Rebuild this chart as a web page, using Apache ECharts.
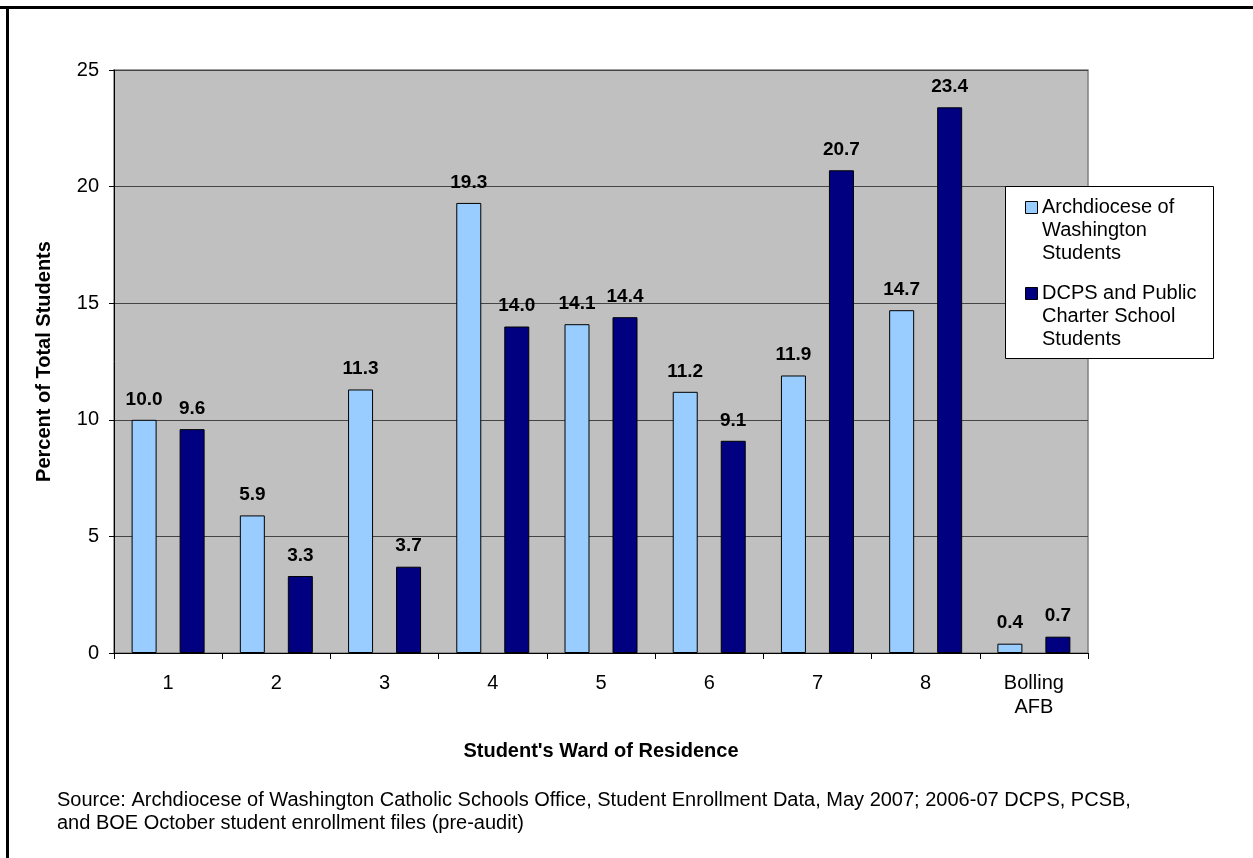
<!DOCTYPE html>
<html>
<head>
<meta charset="utf-8">
<script src="https://cdn.jsdelivr.net/npm/echarts@6/dist/echarts.min.js"></script>
<style>
html,body{margin:0;padding:0;background:#fff;}
#chart{width:1253px;height:858px;}
</style>
</head>
<body>
<div id="chart"></div>
<script>
var categories = ['1', '2', '3', '4', '5', '6', '7', '8', 'Bolling\nAFB'];
var archdioceseValues = [10.0, 5.9, 11.3, 19.3, 14.1, 11.2, 11.9, 14.7, 0.4];
var dcpsValues = [9.6, 3.3, 3.7, 14.0, 14.4, 9.1, 20.7, 23.4, 0.7];
var seriesNames = ['Archdiocese of Washington Students', 'DCPS and Public Charter School Students'];
var legendLines = [['Archdiocese of', 'Washington', 'Students'], ['DCPS and Public', 'Charter School', 'Students']];
var yTicks = {min: 0, max: 25, interval: 5};
var sourceLines = [
  'Source: Archdiocese of Washington Catholic Schools Office, Student Enrollment Data, May 2007; 2006-07 DCPS, PCSB,',
  'and BOE October student enrollment files (pre-audit)'
];

var FONT = '"Liberation Sans", Arial, sans-serif';
var FS = 20;
var colors = ['#99CCFF', '#000080'];

var chart = echarts.init(document.getElementById('chart'), null, {renderer: 'canvas'});

var labelCfg = {
  show: true, position: 'top', distance: 11,
  fontFamily: FONT, fontSize: 19, fontWeight: 'bold', color: '#000',
  formatter: function (p) { return p.value.toFixed(1); }
};

var legendGraphics = [];
var legendX = 1005, legendY = 186;
legendGraphics.push({
  type: 'rect', left: legendX, top: legendY, z: 10,
  shape: {width: 208, height: 172},
  style: {fill: '#fff', stroke: '#000', lineWidth: 1}
});
var itemCenters = [207, 293];
for (var i = 0; i < 2; i++) {
  legendGraphics.push({
    type: 'rect', left: 1025, top: itemCenters[i] - 6, z: 11,
    shape: {width: 12, height: 12},
    style: {fill: colors[i], stroke: '#000', lineWidth: 1}
  });
  for (var j = 0; j < legendLines[i].length; j++) {
    legendGraphics.push({
      type: 'text', left: 1042, top: itemCenters[i] + j * 23 - 10, z: 11,
      style: {text: legendLines[i][j], font: FS + 'px ' + FONT, fill: '#000'}
    });
  }
}

var option = {
  animation: false,
  backgroundColor: '#fff',
  grid: {
    left: 114, top: 70, right: 165, bottom: 205,
    show: true, backgroundColor: '#C0C0C0', borderColor: '#808080', borderWidth: 1.5,
    containLabel: false
  },
  xAxis: {
    type: 'category',
    data: categories,
    name: "Student's Ward of Residence",
    nameLocation: 'middle',
    nameGap: 88,
    nameTextStyle: {fontFamily: FONT, fontSize: FS, fontWeight: 'bold', color: '#000'},
    axisLine: {lineStyle: {color: '#000', width: 1}},
    axisTick: {show: true, alignWithLabel: false, length: 6, lineStyle: {color: '#000'}},
    axisLabel: {fontFamily: FONT, fontSize: FS, color: '#000', margin: 18, lineHeight: 24, interval: 0}
  },
  yAxis: {
    type: 'value',
    min: yTicks.min, max: yTicks.max, interval: yTicks.interval,
    name: 'Percent of Total Students',
    nameLocation: 'middle',
    nameGap: 60,
    nameTextStyle: {fontFamily: FONT, fontSize: FS, fontWeight: 'bold', color: '#000'},
    axisLine: {show: true, lineStyle: {color: '#000', width: 1}},
    axisTick: {show: true, length: 5, lineStyle: {color: '#000'}},
    axisLabel: {fontFamily: FONT, fontSize: FS, color: '#000', margin: 15},
    splitLine: {show: true, lineStyle: {color: '#444', width: 1}}
  },
  series: [
    {
      name: seriesNames[0], type: 'bar', data: archdioceseValues,
      barWidth: 25, barGap: '92%',
      itemStyle: {color: colors[0], borderColor: '#000', borderWidth: 1},
      label: labelCfg
    },
    {
      name: seriesNames[1], type: 'bar', data: dcpsValues,
      barWidth: 25, barGap: '92%',
      itemStyle: {color: colors[1], borderColor: '#000', borderWidth: 1},
      label: labelCfg
    }
  ],
  graphic: [
    {type: 'rect', left: 0, top: 6, z: 5, shape: {width: 1253, height: 3}, style: {fill: '#000'}},
    {type: 'rect', left: 6, top: 6, z: 5, shape: {width: 3, height: 852}, style: {fill: '#000'}},
    {type: 'text', left: 57, top: 789, z: 5,
      style: {text: sourceLines.join('\n'), font: FS + 'px ' + FONT, fill: '#000', lineHeight: 23}}
  ].concat(legendGraphics)
};

chart.setOption(option);
</script>
</body>
</html>
